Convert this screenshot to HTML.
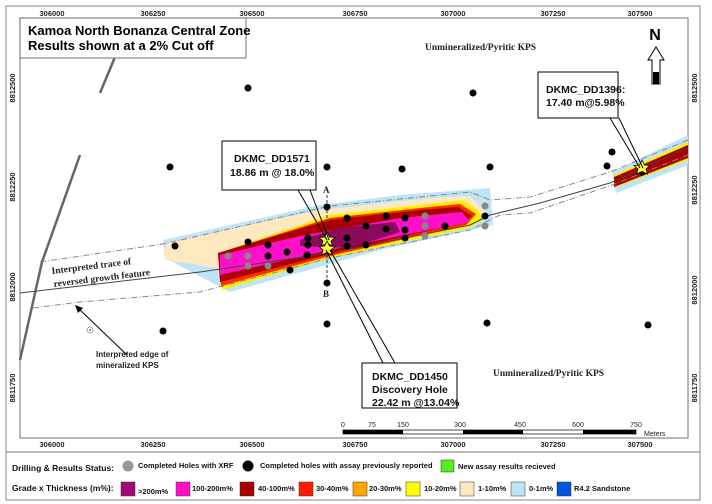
<!DOCTYPE html>
<html><head><meta charset="utf-8"><style>
body{margin:0;background:#fff;}
svg{display:block;font-family:"Liberation Sans",Arial,sans-serif;}
.t{font-family:"Liberation Serif",serif;font-weight:bold;}
</style></head><body>
<svg width="712" height="504" viewBox="0 0 712 504" xmlns="http://www.w3.org/2000/svg">
<rect x="0" y="0" width="712" height="504" fill="#fff"/>
<rect x="6" y="6" width="694" height="446" fill="none" stroke="#999" stroke-width="1.2"/>
<rect x="6" y="452" width="694" height="48" fill="none" stroke="#999" stroke-width="1.2"/>
<rect x="20" y="18" width="668" height="420" fill="none" stroke="#888" stroke-width="1.2"/>
<g font-size="7.5" font-weight="bold" fill="#222" text-anchor="middle">
<text x="52" y="16">306000</text><text x="153" y="16">306250</text><text x="252" y="16">306500</text><text x="355" y="16">306750</text><text x="453" y="16">307000</text><text x="553" y="16">307250</text><text x="640" y="16">307500</text>
<text x="52" y="447">306000</text><text x="153" y="447">306250</text><text x="252" y="447">306500</text><text x="355" y="447">306750</text><text x="453" y="447">307000</text><text x="553" y="447">307250</text><text x="640" y="447">307500</text>
<text transform="translate(15,88) rotate(-90)">8812500</text><text transform="translate(15,187) rotate(-90)">8812250</text><text transform="translate(15,287) rotate(-90)">8812000</text><text transform="translate(15,388) rotate(-90)">8811750</text>
<text transform="translate(697,88) rotate(-90)">8812500</text><text transform="translate(697,190) rotate(-90)">8812250</text><text transform="translate(697,290) rotate(-90)">8812000</text><text transform="translate(697,388) rotate(-90)">8811750</text>
</g>
<polyline points="115,57 100,93" fill="none" stroke="#666" stroke-width="2.5"/>
<polyline points="80,155 42,262 20,360" fill="none" stroke="#666" stroke-width="2.5"/>
<polygon points="163,240 320,205 400,195 490,188 493,225 380,250 230,292 165,258" fill="#bde4f7"/>
<polygon points="163,252 168,242 320,210 430,198 470,196 487,212 470,222 330,253 218,268 165,260" fill="#fde8c0"/>
<polygon points="218,253 330,215 420,205 462,200 478,210 483,220 468,228 330,258 222,290" fill="#ffee00"/>
<polygon points="218,253 330,218 420,208 460,204 476,214 466,225 330,256 221,286" fill="#ff2a00"/>
<polygon points="218,253 330,220 420,210 458,207 472,216 462,223 330,254 220,282" fill="#aa0000"/>
<polygon points="220,255 300,236 400,218 462,212 470,222 330,250 220,275" fill="#ff10c8"/>
<polygon points="300,240 340,228 395,222 400,232 350,248 300,246" fill="#8a0a5c"/>
<polygon points="612,172 688,135 688,165 616,193" fill="#bde4f7"/>
<polygon points="614,175 688,142 688,160 614,188" fill="#ffee00"/>
<polygon points="614,177 688,145 688,158 614,187" fill="#aa0000"/>
<g fill="none" stroke="#888" stroke-width="1" stroke-dasharray="6,2,1,2">
<polyline points="40,262 163,244 330,206 470,192 490,200 530,197 610,172 688,140"/>
<polyline points="33,308 80,302 200,292 330,258 470,230 500,215 530,213 612,185 688,155"/>
</g>
<polyline points="20,293 200,272 330,253 470,225 490,215 540,203 610,183 688,148" fill="none" stroke="#444" stroke-width="1"/>
<line x1="327" y1="195" x2="327" y2="283" stroke="#333" stroke-dasharray="3,2"/>
<g fill="#000">
<circle cx="248" cy="88" r="3.5"/><circle cx="473" cy="93" r="3.5"/><circle cx="170" cy="167" r="3.5"/><circle cx="327" cy="167" r="3.5"/><circle cx="402" cy="169" r="3.5"/><circle cx="490" cy="167" r="3.5"/>
<circle cx="612" cy="152" r="3.5"/><circle cx="607" cy="166" r="3.5"/><circle cx="642" cy="172" r="3.5"/>
<circle cx="175" cy="246" r="3.5"/><circle cx="248" cy="242" r="3.5"/><circle cx="268" cy="245" r="3.5"/><circle cx="268" cy="256" r="3.5"/><circle cx="287" cy="252" r="3.5"/><circle cx="290" cy="270" r="3.5"/>
<circle cx="308" cy="238" r="3.5"/><circle cx="308" cy="245" r="3.5"/><circle cx="307" cy="255" r="3.5"/><circle cx="327" cy="207" r="3.5"/><circle cx="347" cy="218" r="3.5"/><circle cx="347" cy="238" r="3.5"/><circle cx="347" cy="246" r="3.5"/>
<circle cx="366" cy="226" r="3.5"/><circle cx="366" cy="245" r="3.5"/><circle cx="386" cy="216" r="3.5"/><circle cx="386" cy="229" r="3.5"/><circle cx="405" cy="218" r="3.5"/><circle cx="405" cy="230" r="3.5"/><circle cx="405" cy="238" r="3.5"/><circle cx="445" cy="226" r="3.5"/><circle cx="485" cy="216" r="3.5"/>
<circle cx="327" cy="283" r="3.5"/><circle cx="163" cy="331" r="3.5"/><circle cx="327" cy="324" r="3.5"/><circle cx="487" cy="323" r="3.5"/><circle cx="648" cy="325" r="3.5"/>
</g>
<g fill="#888">
<circle cx="228" cy="256" r="3.5"/><circle cx="248" cy="256" r="3.5"/><circle cx="248" cy="266" r="3.5"/><circle cx="268" cy="266" r="3.5"/><circle cx="425" cy="216" r="3.5"/><circle cx="425" cy="226" r="3.5"/><circle cx="425" cy="236" r="3.5"/><circle cx="485" cy="206" r="3.5"/><circle cx="485" cy="226" r="3.5"/>
</g>
<circle cx="90" cy="330" r="3" fill="#fff" stroke="#888" stroke-width="0.7"/><circle cx="90" cy="330" r="0.8" fill="#000"/>
<g fill="#ffff33" stroke="#000" stroke-width="0.8">
<polygon points="327,232 329.5,237 335,237.5 331,241 332.5,246 327,243.5 321.5,246 323,241 319,237.5 324.5,237"/>
<polygon points="327,241 329.5,246 335,246.5 331,250 332.5,255 327,252.5 321.5,255 323,250 319,246.5 324.5,246"/>
<polygon points="642,160 644.5,165 650,165.5 646,169 647.5,174 642,171.5 636.5,174 638,169 634,165.5 639.5,165"/>
</g>
<g fill="none" stroke="#000" stroke-width="1">
<polyline points="298,190 327,240"/><polyline points="310,190 329,240"/>
<polyline points="383,363 326,250"/><polyline points="395,363 330,250"/>
<polyline points="610,118 640,168"/><polyline points="619,118 643,168"/>
<polyline points="127,355 78,308"/></g>
<polygon points="75,305 83,308 78,313" fill="#000"/>
<rect x="222" y="141" width="94" height="49" fill="#fff" stroke="#000"/>
<rect x="362" y="363" width="95" height="45" fill="#fff" stroke="#000"/>
<rect x="538" y="72" width="80" height="46" fill="#fff" stroke="#000"/>
<rect x="20" y="18" width="226" height="40" fill="#fff" stroke="#888" stroke-width="1.2"/>
<g font-weight="bold" font-size="10.5" fill="#111">
<text x="234" y="162">DKMC_DD1571</text><text x="230" y="176">18.86 m @ 18.0%</text>
<text x="372" y="380">DKMC_DD1450</text><text x="372" y="393">Discovery Hole</text><text x="372" y="406">22.42 m @13.04%</text>
<text x="546" y="93">DKMC_DD1396:</text><text x="546" y="106">17.40 m@5.98%</text>
</g>
<text x="28" y="35" font-size="13" font-weight="bold">Kamoa North Bonanza Central Zone</text>
<text x="28" y="50" font-size="13" font-weight="bold">Results shown at a 2% Cut off</text>
<g class="t" font-size="9.5" fill="#222">
<text x="425" y="50">Unmineralized/Pyritic KPS</text>
<text x="493" y="376">Unmineralized/Pyritic KPS</text>
<text x="52" y="274" transform="rotate(-7 52 274)">Interpreted trace of</text>
<text x="54" y="287" transform="rotate(-7 54 287)">reversed growth feature</text>
<text x="323" y="193" font-size="9">A</text><text x="323" y="297" font-size="9">B</text>
</g>
<text x="96" y="357" font-size="8" font-weight="bold" fill="#222">Interpreted edge of</text>
<text x="96" y="368" font-size="8" font-weight="bold" fill="#222">mineralized KPS</text>
<text x="655" y="40" font-size="16" font-weight="bold" text-anchor="middle">N</text>
<polygon points="656,47 664,60 660,60 660,84 652,84 652,60 648,60" fill="#fff" stroke="#000"/>
<rect x="653" y="72" width="6" height="12" fill="#000"/>
<g font-size="7" fill="#222" text-anchor="middle">
<text x="343" y="427">0</text><text x="372" y="427">75</text><text x="403" y="427">150</text><text x="460" y="427">300</text><text x="520" y="427">450</text><text x="578" y="427">600</text><text x="636" y="427">750</text>
</g>
<text x="644" y="436" font-size="7" fill="#222">Meters</text>
<rect x="343" y="430" width="293" height="4" fill="#fff" stroke="#000" stroke-width="0.7"/>
<rect x="343" y="430" width="60" height="4" fill="#000"/><rect x="463" y="430" width="60" height="4" fill="#000"/><rect x="583" y="430" width="53" height="4" fill="#000"/>
<g font-size="7.5" font-weight="bold" fill="#111">
<text x="12" y="471" font-size="8.5">Drilling &amp; Results Status:</text>
<circle cx="128" cy="466" r="5.5" fill="#999"/><text x="138" y="468">Completed Holes with XRF</text>
<circle cx="248" cy="466" r="5.5" fill="#000"/><text x="260" y="468">Completed holes with assay previously reported</text>
<rect x="441" y="460" width="13" height="12" fill="#55ee22" stroke="#333" stroke-width="0.5"/><text x="458" y="469">New assay results recieved</text>
<text x="12" y="491" font-size="8.5">Grade x Thickness (m%):</text>
<rect x="121" y="482" width="14" height="14" fill="#a0087a" stroke="#333" stroke-width="0.5"/><text x="138" y="494">&gt;200m%</text>
<rect x="176" y="482" width="14" height="14" fill="#ff10c8" stroke="#333" stroke-width="0.5"/><text x="192" y="491">100-200m%</text>
<rect x="240" y="482" width="14" height="14" fill="#aa0000" stroke="#333" stroke-width="0.5"/><text x="258" y="491">40-100m%</text>
<rect x="299" y="482" width="14" height="14" fill="#ff1a00" stroke="#333" stroke-width="0.5"/><text x="316" y="491">30-40m%</text>
<rect x="353" y="482" width="14" height="14" fill="#ffa500" stroke="#333" stroke-width="0.5"/><text x="369" y="491">20-30m%</text>
<rect x="406" y="482" width="14" height="14" fill="#ffff00" stroke="#333" stroke-width="0.5"/><text x="424" y="491">10-20m%</text>
<rect x="460" y="482" width="14" height="14" fill="#fde8c0" stroke="#333" stroke-width="0.5"/><text x="478" y="491">1-10m%</text>
<rect x="511" y="482" width="14" height="14" fill="#bde4f7" stroke="#333" stroke-width="0.5"/><text x="529" y="491">0-1m%</text>
<rect x="557" y="482" width="14" height="14" fill="#0055dd" stroke="#333" stroke-width="0.5"/><text x="574" y="491">R4.2 Sandstone</text>
</g>
</svg>
</body></html>
